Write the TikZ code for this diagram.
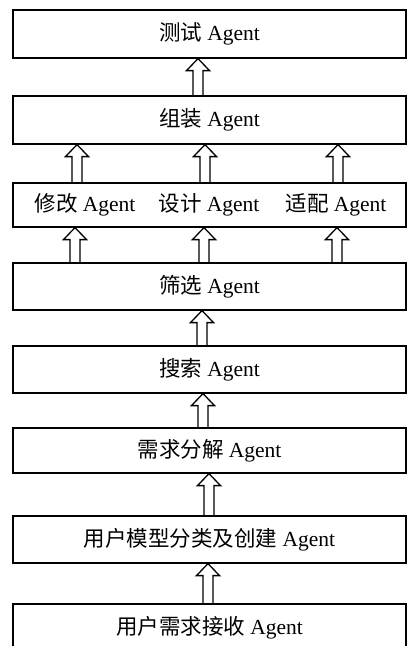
\documentclass[tikz,border=0pt]{standalone}
\usepackage{fontspec}
\setmainfont{Liberation Serif}
\newfontfamily\cjk{Noto Sans CJK SC}
\usetikzlibrary{calc}
\tikzset{
  box/.style={draw, line width=1.2pt, minimum width=393pt, inner sep=0pt, font=\fontsize{21.5}{26}\selectfont},
  lbl/.style={inner sep=0pt, font=\fontsize{21.5}{26}\selectfont},
  fatarrow/.style={line width=1.3pt, line join=miter, to path={let \p1=(\tikztostart), \p2=(\tikztotarget) in
    (\x1-5pt,\y1) -- (\x1-5pt,\y2-12pt) -- (\x1-11.5pt,\y2-12pt) -- (\x1,\y2) -- (\x1+11.5pt,\y2-12pt) -- (\x1+5pt,\y2-12pt) -- (\x1+5pt,\y1)}}
}
\begin{document}
\begin{tikzpicture}[x=1pt,y=-1pt]
\useasboundingbox (0,0) rectangle (407,646);
\node[box, minimum height=48pt] (b1) at (209.5,34) {{\cjk 测试} Agent};
\node[box, minimum height=48pt] (b2) at (209.5,120) {{\cjk 组装} Agent};
\node[box, minimum height=44pt] (b3) at (209.5,205) {};
\node[lbl] (t1) at (85,205) {{\cjk 修改} Agent};
\node[lbl] (t2) at (209,205) {{\cjk 设计} Agent};
\node[lbl] (t3) at (336,205) {{\cjk 适配} Agent};
\node[box, minimum height=47pt] (b4) at (209.5,286.5) {{\cjk 筛选} Agent};
\node[box, minimum height=47pt] (b5) at (209.5,369.5) {{\cjk 搜索} Agent};
\node[box, minimum height=45pt] (b6) at (209.5,450.5) {{\cjk 需求分解} Agent};
\node[box, minimum height=47pt] (b7) at (209.5,539.5) {{\cjk 用户模型分类及创建} Agent};
\node[box, minimum height=48pt] (b8) at (209.5,628) {{\cjk 用户需求接收} Agent};
% arrow columns
\coordinate (xa) at (198,0);
\coordinate (xl1) at (77,0);
\coordinate (xm1) at (205,0);
\coordinate (xr1) at (338,0);
\coordinate (xl2) at (75,0);
\coordinate (xm2) at (204,0);
\coordinate (xr2) at (337,0);
\coordinate (xb) at (202,0);
\coordinate (xc) at (203,0);
\coordinate (xd) at (209,0);
\coordinate (xe) at (208,0);
\draw[fatarrow] (b2.north -| xa) to (b1.south -| xa);
\draw[fatarrow] (b3.north -| xl1) to (b2.south -| xl1);
\draw[fatarrow] (b3.north -| xm1) to (b2.south -| xm1);
\draw[fatarrow] (b3.north -| xr1) to (b2.south -| xr1);
\draw[fatarrow] (b4.north -| xl2) to (b3.south -| xl2);
\draw[fatarrow] (b4.north -| xm2) to (b3.south -| xm2);
\draw[fatarrow] (b4.north -| xr2) to (b3.south -| xr2);
\draw[fatarrow] (b5.north -| xb) to (b4.south -| xb);
\draw[fatarrow] (b6.north -| xc) to (b5.south -| xc);
\draw[fatarrow] (b7.north -| xd) to (b6.south -| xd);
\draw[fatarrow] (b8.north -| xe) to (b7.south -| xe);
\end{tikzpicture}
\end{document}
